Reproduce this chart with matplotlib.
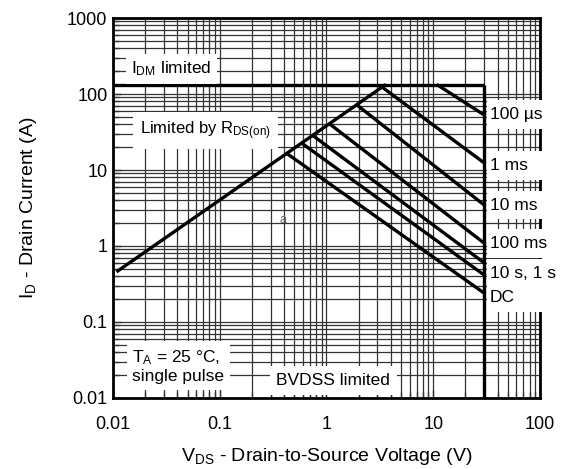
import matplotlib
matplotlib.use('Agg')
import matplotlib.pyplot as plt
from matplotlib.patches import Rectangle

plt.rcParams['font.family'] = ['Liberation Sans', 'DejaVu Sans']
plt.rcParams['mathtext.default'] = 'regular'

# limits
idm_v = [0.01, 30]
idm_i = [130, 130]
bv_v = [30, 30]
bv_i = [130, 0.01]
rds_v = [0.0111, 3.5]
rds_i = [0.47, 130]

# pulse lines: start on Rds(on) line / IDM line, end on BVDSS line
pulse_names = ['100 µs', '1 ms', '10 ms', '100 ms', '1 s', '10 s', 'DC']
pulse_v0 = [11.1, 3.35, 1.93, 1.08, 0.75, 0.59, 0.43]
pulse_i0 = [130, 122, 71.6, 40, 28.2, 22.4, 16.3]
pulse_v1 = [30, 30, 30, 30, 30, 30, 30]
pulse_i1 = [53, 12.4, 3.46, 1.09, 0.60, 0.415, 0.24]

# right-hand labels
right_labels = ['100 µs', '1 ms', '10 ms', '100 ms', '10 s, 1 s', 'DC']
right_label_i = [53, 11.6, 3.46, 1.09, 0.44, 0.207]

x_ticks = [0.01, 0.1, 1, 10, 100]
x_ticklabels = ['0.01', '0.1', '1', '10', '100']
y_ticks = [0.01, 0.1, 1, 10, 100, 1000]
y_ticklabels = ['0.01', '0.1', '1', '10', '100', '1000']

fig = plt.figure(figsize=(5.69, 4.69), dpi=100)
ax = fig.add_axes([0.1986, 0.1514, 0.7504, 0.8102])
ax.set_xscale('log')
ax.set_yscale('log')
ax.set_xlim(0.01, 100)
ax.set_ylim(0.01, 1000)

ax.grid(True, which='both', color='0.2', lw=0.9)
ax.set_xticks(x_ticks)
ax.set_xticklabels(x_ticklabels)
ax.set_yticks(y_ticks)
ax.set_yticklabels(y_ticklabels)
ax.tick_params(which='both', direction='in', color='0.2', labelsize=13)
ax.tick_params(which='major', length=6, width=1)
ax.tick_params(which='minor', length=4, width=1)
ax.tick_params(axis='x', which='both', pad=13)
ax.tick_params(axis='y', which='both', pad=4)
for s in ax.spines.values():
    s.set_linewidth(2)

lw = 2.4
ax.plot(idm_v, idm_i, color='black', lw=lw, solid_capstyle='butt')
ax.plot(bv_v, bv_i, color='black', lw=lw, solid_capstyle='butt')
ax.plot(rds_v, rds_i, color='black', lw=lw)
for k in range(len(pulse_names)):
    ax.plot([pulse_v0[k], pulse_v1[k]], [pulse_i0[k], pulse_i1[k]],
            color='black', lw=lw)

box = dict(facecolor='white', edgecolor='none', pad=4)
ax.text(0.0148, 215, 'I$_{DM}$ limited', fontsize=12.5, va='center', bbox=box)
ax.text(0.018, 33, 'Limited by R$_{DS(on)}$', fontsize=12, va='center',
        bbox=dict(facecolor='white', edgecolor='none', pad=5))
ax.text(0.0152, 0.026, 'T$_A$ = 25 °C,\nsingle pulse', fontsize=12.5,
        va='center', linespacing=1.15, bbox=box)
ax.text(0.34, 0.0172, 'BVDSS limited', fontsize=12.5, va='center',
        bbox=dict(facecolor='white', edgecolor='none', pad=5))
ax.text(0.39, 2.2, 'a', fontsize=9, color='0.4', ha='center', va='center')

# white label strips on the right, they hide grid and right spine
for name, yi in zip(right_labels, right_label_i):
    r = Rectangle((31.6, yi / 1.55), 200, yi * 1.55 - yi / 1.55,
                  facecolor='white', edgecolor='none', zorder=4, clip_on=False)
    ax.add_patch(r)
    ax.text(34, yi, name, fontsize=12.5, va='center', ha='left', zorder=5,
            clip_on=False)

ax.set_xlabel('V$_{DS}$ - Drain-to-Source Voltage (V)', fontsize=14, labelpad=9)
ax.set_ylabel('I$_D$ - Drain Current (A)', fontsize=14, labelpad=20)

fig.savefig('out.png', dpi=100)
